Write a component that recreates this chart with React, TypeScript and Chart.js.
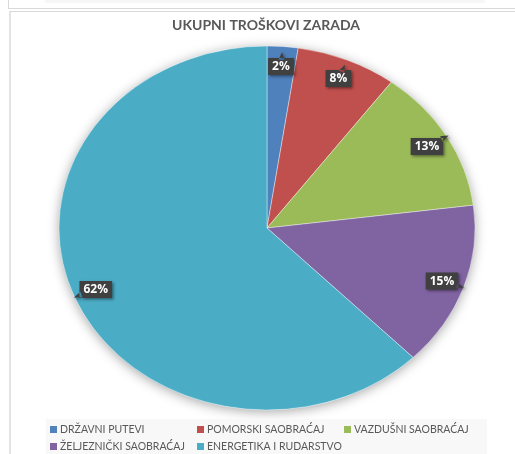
import React, { useEffect, useRef } from "react";
import { Chart, registerables } from "chart.js";
Chart.register(...registerables);

const categories = [
  "DRŽAVNI PUTEVI",
  "POMORSKI SAOBRAĆAJ",
  "VAZDUŠNI SAOBRAĆAJ",
  "ŽELJEZNIČKI SAOBRAĆAJ",
  "ENERGETIKA I RUDARSTVO",
];
const values = [2.4, 7.8, 12.8, 14.6, 62.4];
const colors = ["#4f81bd", "#c0504d", "#9bbb59", "#8064a2", "#4bacc6"];
const chartTitle = "UKUPNI TROŠKOVI ZARADA";

const SX = 208 / 182; // horizontal stretch of the pie (ellipse)

const ellipsePlugin = {
  id: "ellipse",
  beforeDatasetsDraw(chart: any) {
    const meta = chart.getDatasetMeta(0);
    const a = meta.data[0];
    if (!a) return;
    const { x: cx, y: cy, outerRadius: r } = a;
    const ctx = chart.ctx;
    ctx.save();
    ctx.translate(cx, cy);
    ctx.scale(SX, 1);
    ctx.beginPath();
    ctx.arc(0, 0, r, 0, Math.PI * 2);
    ctx.shadowColor = "rgba(0,0,0,0.35)";
    ctx.shadowBlur = 12;
    ctx.shadowOffsetX = 0;
    ctx.shadowOffsetY = 2;
    ctx.fillStyle = "#ffffff";
    ctx.fill();
    ctx.restore();
    ctx.save();
    ctx.translate(cx, cy);
    ctx.scale(SX, 1);
    ctx.translate(-cx, -cy);
  },
  afterDatasetsDraw(chart: any) {
    const ctx = chart.ctx;
    ctx.restore();
    // data labels
    const meta = chart.getDatasetMeta(0);
    const data = chart.data.datasets[0].data as number[];
    const sum = data.reduce((s, v) => s + v, 0);
    ctx.save();
    ctx.font = "bold 12px 'Open Sans', sans-serif";
    ctx.textAlign = "center";
    ctx.textBaseline = "middle";
    meta.data.forEach((arc: any, i: number) => {
      const mid = (arc.startAngle + arc.endAngle) / 2;
      const r = arc.outerRadius * 0.89;
      const px = arc.x + Math.cos(mid) * r * SX;
      const py = arc.y + Math.sin(mid) * r;
      const txt = Math.round((data[i] / sum) * 100) + "%";
      const w = ctx.measureText(txt).width + 8;
      const h = 17;
      // pointer direction
      let dx = Math.cos(mid) * SX;
      let dy = Math.sin(mid);
      const len = Math.hypot(dx, dy);
      dx /= len;
      dy /= len;
      const tEdge = Math.min(
        Math.abs(dx) > 1e-6 ? w / 2 / Math.abs(dx) : 1e9,
        Math.abs(dy) > 1e-6 ? h / 2 / Math.abs(dy) : 1e9
      );
      const tipX = px + dx * (tEdge + 6);
      const tipY = py + dy * (tEdge + 6);
      const bx = px + dx * (tEdge - 2);
      const by = py + dy * (tEdge - 2);
      ctx.save();
      ctx.shadowColor = "rgba(0,0,0,0.45)";
      ctx.shadowBlur = 3;
      ctx.shadowOffsetX = 1.5;
      ctx.shadowOffsetY = 1.5;
      ctx.fillStyle = "#404040";
      ctx.beginPath();
      ctx.rect(px - w / 2, py - h / 2, w, h);
      ctx.moveTo(bx - dy * 3, by + dx * 3);
      ctx.lineTo(tipX, tipY);
      ctx.lineTo(bx + dy * 3, by - dx * 3);
      ctx.closePath();
      ctx.fill();
      ctx.restore();
      ctx.fillStyle = "#ffffff";
      ctx.fillText(txt, px, py + 0.5);
    });
    ctx.restore();
  },
};

const decorPlugin = {
  id: "decor",
  afterDraw(chart: any) {
    const ctx = chart.ctx;
    ctx.save();
    // title
    ctx.fillStyle = "#595959";
    ctx.font = "bold 14px Lato, sans-serif";
    ctx.textAlign = "center";
    ctx.textBaseline = "middle";
    ctx.fillText(chartTitle, 266, 25);
    // legend
    ctx.fillStyle = "#f8f8f8";
    ctx.fillRect(46, 419, 441, 40);
    const colX = [50, 197, 344];
    const rowY = [429.5, 446.5];
    ctx.font = "10.5px Lato, sans-serif";
    ctx.textAlign = "left";
    const bg = chart.data.datasets[0].backgroundColor as string[];
    (chart.data.labels as string[]).forEach((lab, i) => {
      const x = colX[i % 3];
      const y = rowY[Math.floor(i / 3)];
      ctx.fillStyle = bg[i];
      ctx.fillRect(x, y - 3.5, 7, 7);
      ctx.fillStyle = "#595959";
      ctx.fillText(lab, x + 10, y + 0.5);
    });
    ctx.restore();
  },
};

export default function App() {
  const ref = useRef<HTMLCanvasElement | null>(null);
  useEffect(() => {
    if (!ref.current) return;
    const chart = new Chart(ref.current, {
      type: "pie",
      data: {
        labels: categories,
        datasets: [
          {
            data: values,
            backgroundColor: colors,
            borderColor: "rgba(255,255,255,0.6)",
            borderWidth: 0.6,
            hoverOffset: 0,
            offset: 0,
            radius: 182,
          } as any,
        ],
      },
      options: {
        responsive: false,
        animation: false,
        devicePixelRatio: 1,
        layout: { padding: { left: 81, right: 62, top: 41, bottom: 39 } },
        plugins: {
          legend: { display: false },
          title: { display: false },
          tooltip: { enabled: false },
        },
        events: [],
      } as any,
      plugins: [ellipsePlugin, decorPlugin],
    });
    return () => chart.destroy();
  }, []);

  return (
    <div
      style={{
        position: "absolute",
        left: 0,
        top: 0,
        width: 515,
        height: 454,
        overflow: "hidden",
        background: "#ffffff",
      }}
    >
      <div
        style={{
          position: "absolute",
          left: 45,
          top: 0,
          width: 440,
          height: 3,
          background: "#f7f7f7",
        }}
      />
      <div
        style={{
          position: "absolute",
          left: 8,
          top: -2,
          width: 600,
          height: 10,
          borderLeft: "1px solid #d9d9d9",
          borderBottom: "1px solid #d9d9d9",
        }}
      />
      <div
        style={{
          position: "absolute",
          left: 9,
          top: 11,
          width: 600,
          height: 600,
          borderLeft: "2px solid #e3e3e3",
          borderTop: "1px solid #d9d9d9",
        }}
      />
      <canvas
        ref={ref}
        width={515}
        height={454}
        style={{ position: "absolute", left: 0, top: 0, width: 515, height: 454 }}
      />
    </div>
  );
}
